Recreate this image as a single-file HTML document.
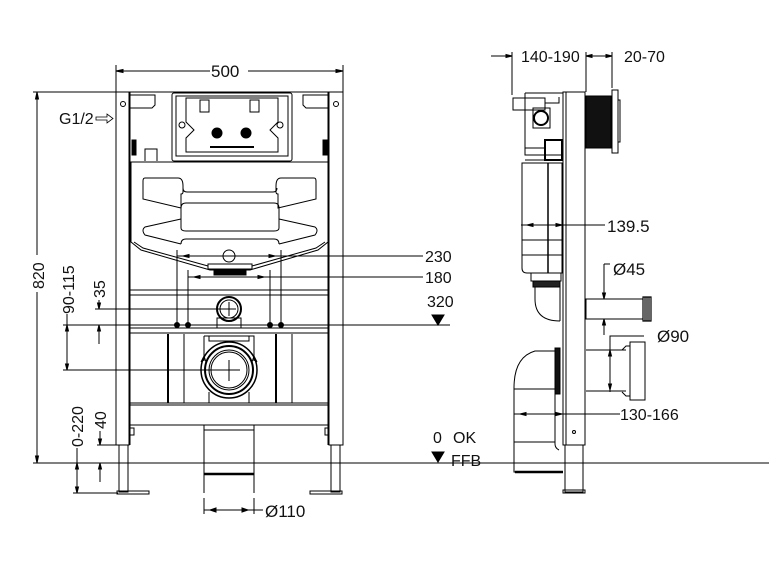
<!DOCTYPE html>
<html><head><meta charset="utf-8"><style>
html,body{margin:0;padding:0;background:#fff;width:769px;height:575px;overflow:hidden}
svg{display:block}
text{font-family:"Liberation Sans",sans-serif;fill:#111}
</style></head><body>
<svg width="769" height="575" viewBox="0 0 769 575" xmlns="http://www.w3.org/2000/svg">
<g stroke="#000" stroke-width="1" fill="none">
<line x1="116" y1="65" x2="116" y2="92"/><line x1="343" y1="65" x2="343" y2="92"/>
<line x1="116" y1="71" x2="210" y2="71"/><line x1="248" y1="71" x2="343" y2="71"/>
<path d="M116 71 l7 -1.5 v3z M343 71 l-7 -1.5 v3z" fill="#000"/>
<line x1="33" y1="92" x2="116" y2="92"/>
<line x1="37" y1="92" x2="37" y2="255"/><line x1="37" y1="292" x2="37" y2="463"/>
<path d="M37 92 l-1.5 7 h3z M37 463 l-1.5 -7 h3z" fill="#000"/>
<line x1="33" y1="463" x2="769" y2="463"/>
<rect x="116" y="92" width="13" height="353"/>
<line x1="130" y1="92" x2="130" y2="445"/>
<rect x="329" y="92" width="14" height="353"/>
<line x1="328" y1="92" x2="328" y2="445"/>
<line x1="129" y1="92" x2="329" y2="92"/>
<circle cx="123" cy="104" r="2.5"/><circle cx="336" cy="104" r="2.5"/>
<rect x="119" y="445" width="9" height="47"/><rect x="117" y="491" width="32" height="3"/>
<rect x="331" y="445" width="9" height="47"/><rect x="310" y="491" width="32" height="3"/>
<rect x="130" y="428" width="4" height="7"/><rect x="325" y="428" width="4" height="7"/>
<path d="M130 95 h25 v10 l-3 3 h-22"/><path d="M328 95 h-25 v10 l3 3 h22"/>
<rect x="132" y="140" width="4" height="15" fill="#000"/><rect x="323" y="140" width="4" height="15" fill="#000"/>
<path d="M145 161 v-12 h12 v12"/>
<rect x="172" y="93" width="120" height="68" rx="2"/>
<rect x="176" y="96" width="112" height="60"/>
<path d="M186 98 h92 v24 l-8 8 l8 8 v14 h-92 v-14 l8 -8 l-8 -8z"/>
<rect x="200" y="100" width="9" height="12"/><rect x="250" y="100" width="9" height="12"/>
<circle cx="217" cy="133" r="5" fill="#000"/><circle cx="246" cy="133" r="5" fill="#000"/>
<circle cx="182" cy="125" r="3"/><circle cx="280" cy="125" r="3"/>
<line x1="210" y1="147" x2="254" y2="147" stroke-width="2"/>
<path d="M131 162 H328 V242 L318 250 L250 270 H210 L141 250 L131 242 Z"/>
<path d="M134 242 L143 248 L208 266 M325 242 L316 248 L252 266"/>
<rect x="208" y="264" width="44" height="5"/>
<rect x="214" y="269" width="32" height="6" fill="#000"/>
<path d="M145 178 q-2 0 -2 3 v18 l38 9 v-14 q2 0 2 -2 v-6 q0 -8 -5 -8 z"/>
<path d="M183 188 q0 4 4 4 h86 q4 0 4 -4"/>
<path d="M314 178 q2 0 2 3 v18 l-38 9 v-14 q-2 0 -2 -2 v-6 q0 -8 5 -8 z"/>
<path d="M181 208 q0 -5 5 -5 h88 q5 0 5 5 v20 q0 3 -5 3 h-88 q-5 0 -5 -3 z"/>
<path d="M181 219 l-36 8 q-4 3 0 8 l36 9 M279 219 l36 8 q4 3 0 8 l-36 9"/>
<path d="M181 244 q0 -5 5 -5 h88 q5 0 5 5"/>
<circle cx="229" cy="256" r="6"/>
<line x1="177" y1="256" x2="423" y2="256"/>
<line x1="188" y1="277" x2="423" y2="277"/>
<line x1="177" y1="250" x2="177" y2="325"/><line x1="281" y1="250" x2="281" y2="325"/>
<line x1="188" y1="270" x2="188" y2="325"/><line x1="270" y1="270" x2="270" y2="325"/>
<path d="M183 256 l6 -1.5 v3z M275 256 l-6 -1.5 v3z M194 277 l6 -1.5 v3z M264 277 l-6 -1.5 v3z" fill="#000"/>
<line x1="130" y1="290" x2="328" y2="290"/>
<line x1="130" y1="295" x2="328" y2="295"/>
<line x1="130" y1="328" x2="328" y2="328"/>
<line x1="130" y1="333" x2="328" y2="333"/>
<line x1="130" y1="403" x2="328" y2="403"/>
<line x1="130" y1="405" x2="328" y2="405"/>
<line x1="130" y1="425" x2="328" y2="425"/>
<line x1="168" y1="334" x2="168" y2="403" stroke-width="2"/><line x1="184" y1="334" x2="184" y2="403"/>
<line x1="276" y1="334" x2="276" y2="403" stroke-width="2"/><line x1="292" y1="334" x2="292" y2="403"/>
<circle cx="229" cy="309" r="12" stroke-width="2"/><circle cx="229" cy="309" r="9"/>
<rect x="217" y="318" width="24" height="10"/>
<line x1="222" y1="309" x2="236" y2="309"/><line x1="229" y1="302" x2="229" y2="316"/>
<line x1="95" y1="309" x2="229" y2="309"/>
<line x1="63" y1="325" x2="450" y2="325"/>
<g fill="#000"><circle cx="177" cy="325" r="2.5"/><circle cx="188" cy="325" r="2.5"/><circle cx="270" cy="325" r="2.5"/><circle cx="281" cy="325" r="2.5"/></g>
<path d="M204 336 h50 v25 M204 336 v25"/>
<rect x="209" y="336" width="40" height="5"/>
<path d="M201 362 l3 -6 l2 6 M257 362 l-3 -6 l-2 6"/>
<circle cx="229" cy="370" r="28" stroke-width="1.5"/>
<circle cx="229" cy="370" r="24" stroke-width="2"/>
<circle cx="229" cy="370" r="20"/>
<circle cx="229" cy="370" r="18"/>
<path d="M209 392 v11 M249 392 v11"/>
<line x1="63" y1="370" x2="240" y2="370"/>
<line x1="229" y1="360" x2="229" y2="381"/>
<path d="M204 425 v68 M254 425 v68 M204 430 h50"/>
<line x1="204" y1="474" x2="254" y2="474" stroke-width="2.5"/>
<line x1="204" y1="498" x2="204" y2="514"/><line x1="254" y1="498" x2="254" y2="514"/>
<line x1="204" y1="510" x2="263" y2="510"/>
<path d="M210 510 l6 -2 v4z M248 510 l-6 -2 v4z" fill="#000"/>
<line x1="99" y1="300" x2="99" y2="309"/><line x1="99" y1="325" x2="99" y2="344"/>
<path d="M99 309 l-1.5 -6 h3z M99 325 l-1.5 6 h3z" fill="#000"/>
<line x1="67" y1="314" x2="67" y2="370"/>
<path d="M67 325 l-1.5 6 h3z M67 370 l-1.5 -6 h3z" fill="#000"/>
<line x1="97" y1="445" x2="120" y2="445"/>
<line x1="100" y1="431" x2="100" y2="445"/><line x1="100" y1="463" x2="100" y2="482"/>
<path d="M100 445 l-1.5 -6 h3z M100 463 l-1.5 6 h3z" fill="#000"/>
<line x1="73" y1="493" x2="118" y2="493"/>
<line x1="77" y1="448" x2="77" y2="493"/>
<path d="M77 463 l-1.5 6 h3z M77 493 l-1.5 -6 h3z" fill="#000"/>
<path d="M432 315 h12 l-6 10z" fill="#000"/>
<path d="M432 452 h12 l-6 10z" fill="#000"/>
<path d="M96 117 h11 v-3 l6 4.5 l-6 4.5 v-3 h-11z" stroke-width="0.8"/>

<line x1="491" y1="56" x2="512" y2="56"/><line x1="586" y1="56" x2="612" y2="56"/>
<line x1="512" y1="52" x2="512" y2="95"/><line x1="586" y1="52" x2="586" y2="92"/><line x1="612" y1="52" x2="612" y2="88"/>
<path d="M512 56 l-6 -1.5 v3z M586 56 l6 -1.5 v3z M612 56 l-6 -1.5 v3z" fill="#000"/>
<rect x="563" y="92" width="22" height="353"/>
<line x1="566" y1="92" x2="566" y2="445"/>
<rect x="565" y="445" width="18" height="47"/><rect x="563" y="490" width="22" height="3"/>
<circle cx="574" cy="432" r="1.5"/>
<rect x="586" y="96" width="25" height="52" fill="#111"/>
<rect x="612" y="90" width="6" height="63"/>
<path d="M618 100 h2 v42 h-2"/>
<rect x="513" y="98" width="32" height="12"/>
<path d="M525 93 h38 M525 93 v62 h38 M545 103 h14 v-6" />
<rect x="533" y="108" width="17" height="20"/><circle cx="541" cy="118" r="7" stroke-width="2"/>
<rect x="545" y="140" width="17" height="20" stroke-width="2"/>
<path d="M525 148 h20 M525 160 h20"/>
<path d="M522 163 H562 V273 H527 q-5 0 -5 -5 Z"/>
<line x1="548" y1="163" x2="548" y2="273" stroke-width="1.5"/>
<line x1="522" y1="240" x2="562" y2="240"/><line x1="522" y1="255" x2="562" y2="255"/>
<line x1="521" y1="225" x2="605" y2="225"/>
<path d="M527 225 l6 -1.5 v3z M562 225 l-6 -1.5 v3z" fill="#000"/>
<rect x="531" y="273" width="30" height="8"/>
<rect x="533" y="281" width="27" height="6" fill="#222"/>
<path d="M535 287 v12 q0 22 25 22 M560 287 v34"/>
<rect x="586" y="299" width="57" height="20"/>
<path d="M643 297 h8 v24 h-8z M645 297 v24 M647 297 v24 M649 297 v24" stroke-width="1.2"/>
<path d="M604 264 h6 M604 264 v34 M604 321 v14 M604 319 h10"/>
<path d="M604 299 l-1.5 -6 h3z M604 319 l-1.5 6 h3z" fill="#000"/>
<path d="M586 350 h40 M586 391 h40"/>
<path d="M622 350 l4 -4 h4 v-4 h15 v58 h-15 v-4 h-4 l-4 -4"/>
<line x1="630" y1="346" x2="630" y2="396"/>
<path d="M644 336 h-34 v56 M610 350 v40"/>
<path d="M610 350 l-1.5 6 h3z M610 390 l-1.5 -6 h3z" fill="#000"/>
<rect x="555" y="348" width="5" height="46" fill="#111"/>
<path d="M555 351 h-20 q-21 6 -21 37 v84 h41 M514 389 h41 M514 442 h41"/>
<path d="M555 394 v50 q0 4 4 6"/>
<line x1="515" y1="472" x2="563" y2="472" stroke-width="2.5"/>
<line x1="514" y1="414" x2="620" y2="414"/>
<path d="M520 414 l6 -1.5 v3z M562 414 l-6 -1.5 v3z" fill="#000"/>
</g>
<text x="211" y="77" font-size="17">500</text>
<text x="59" y="124" font-size="16">G1/2</text>
<text transform="translate(44,289) rotate(-90)" font-size="16">820</text>
<text transform="translate(74,314) rotate(-90)" font-size="16">90-115</text>
<text transform="translate(105,298) rotate(-90)" font-size="16">35</text>
<text transform="translate(83,447) rotate(-90)" font-size="16">0-220</text>
<text transform="translate(106,429) rotate(-90)" font-size="16">40</text>
<text x="425" y="262" font-size="16">230</text>
<text x="425" y="283" font-size="16">180</text>
<text x="427" y="307" font-size="16">320</text>
<text x="433" y="443" font-size="16">0</text>
<text x="453" y="443" font-size="16">OK</text>
<text x="451" y="466" font-size="16">FFB</text>
<text x="265" y="517" font-size="17">Ø110</text>
<text x="521" y="62" font-size="16">140-190</text>
<text x="624" y="62" font-size="16">20-70</text>
<text x="607" y="232" font-size="17">139.5</text>
<text x="613" y="275" font-size="17">Ø45</text>
<text x="657" y="342" font-size="17">Ø90</text>
<text x="620" y="420" font-size="16">130-166</text>
</svg>
</body></html>
